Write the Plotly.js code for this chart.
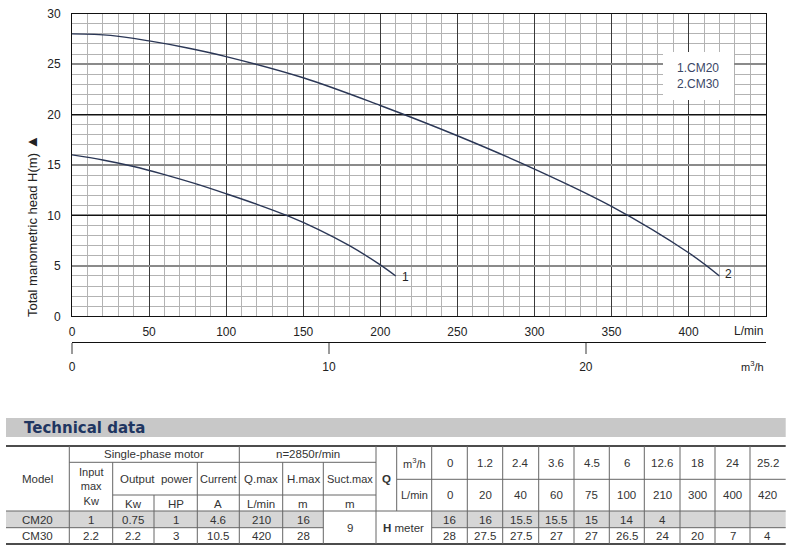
<!DOCTYPE html>
<html>
<head>
<meta charset="utf-8">
<script src="https://cdn.plot.ly/plotly-3.0.1.min.js"></script>
<style>html,body{margin:0;padding:0;background:#fff;}#chart{width:792px;height:554px;}</style>
</head>
<body>
<div id="chart"></div>
<script>
// ---------- Chart data ----------
const curve1Name = '1.CM20';
const curve1Flow = [0, 20, 40, 60, 80, 100, 120, 140, 160, 180, 200, 210];
const curve1Head = [16, 15.5, 14.85, 14.05, 13.15, 12.15, 11.1, 9.95, 8.6, 7.0, 5.1, 4.0];

const curve2Name = '2.CM30';
const curve2Flow = [0, 25, 50, 75, 100, 150, 200, 250, 300, 350, 400, 420];
const curve2Head = [28, 27.85, 27.3, 26.6, 25.75, 23.65, 20.9, 17.9, 14.6, 10.9, 6.3, 4.0];

const flowTicks = [0, 50, 100, 150, 200, 250, 300, 350, 400];
const headTicks = [0, 5, 10, 15, 20, 25, 30];
const m3hTicks = [0, 10, 20];

// ---------- Table data ----------
const tableTitle = 'Technical data';
const models = ['CM20', 'CM30'];
const inputKw = ['1', '2.2'];
const outputKw = ['0.75', '2.2'];
const outputHP = ['1', '3'];
const currentA = ['4.6', '10.5'];
const qMax = ['210', '420'];
const hMax = ['16', '28'];
const suctMax = '9';
const qM3h = ['0', '1.2', '2.4', '3.6', '4.5', '6', '12.6', '18', '24', '25.2'];
const qLmin = ['0', '20', '40', '60', '75', '100', '210', '300', '400', '420'];
const hCM20 = ['16', '16', '15.5', '15.5', '15', '14', '4', '', '', ''];
const hCM30 = ['28', '27.5', '27.5', '27', '27', '26.5', '24', '20', '7', '4'];

// ---------- helpers ----------
const W = 792, H = 554;
const px = x => x / W;
const py = y => 1 - y / H;
const FONT = 'Liberation Sans, Arial, sans-serif';
const curveColor = '#2b3756';
const TS = 11.5;

const shapes = [];
const annotations = [];

function hline(y, x0, x1, w, c) {
  shapes.push({type: 'line', xref: 'paper', yref: 'paper', x0: px(x0), x1: px(x1), y0: py(y), y1: py(y),
    line: {color: c || '#666', width: w || 1}, layer: 'above'});
}
function vline(x, y0, y1, w, c) {
  shapes.push({type: 'line', xref: 'paper', yref: 'paper', x0: px(x), x1: px(x), y0: py(y0), y1: py(y1),
    line: {color: c || '#666', width: w || 1}, layer: 'above'});
}
function rect(x0, y0, x1, y1, fill) {
  shapes.push({type: 'rect', xref: 'paper', yref: 'paper', x0: px(x0), x1: px(x1), y0: py(y0), y1: py(y1),
    line: {width: 0}, fillcolor: fill, layer: 'above'});
}
function txt(x, y, text, opt) {
  opt = opt || {};
  annotations.push({xref: 'paper', yref: 'paper', x: px(x), y: py(y), text: text, showarrow: false,
    xanchor: opt.xanchor || 'center', yanchor: 'middle', textangle: opt.angle || 0,
    font: {family: opt.family || FONT, size: opt.size || TS, color: opt.color || '#333'}});
}

// ---------- plot geometry ----------
const plotL = 72, plotR = 765.7, plotT = 13.7, plotB = 316.3;
const m3hAxisY = 342.3;

// ---------- chart annotations ----------
annotations.push({xref: 'x', yref: 'y', x: curve1Flow[curve1Flow.length - 1], y: curve1Head[curve1Head.length - 1],
  text: '1', showarrow: false, xshift: 10, yshift: -1, font: {family: FONT, size: 12, color: '#222'}});
annotations.push({xref: 'x', yref: 'y', x: curve2Flow[curve2Flow.length - 1], y: curve2Head[curve2Head.length - 1],
  text: '2', showarrow: false, xshift: 9, yshift: 2, font: {family: FONT, size: 12, color: '#222'}});

// legend box
rect(663, 52, 734, 100, '#ffffff');
txt(698, 68, curve1Name, {size: 12, color: '#3a4666'});
txt(698, 83.5, curve2Name, {size: 12, color: '#3a4666'});

txt(748, 331, 'L/min', {size: 12, color: '#222'});
txt(752, 366, 'm<sup>3</sup>/h', {size: 11, color: '#222'});
txt(31, 226, 'Total manometric head H(m) <span style="font-size:15px">▲</span>', {size: 13, color: '#222', angle: -90});

// ---------- table ----------
rect(6, 418, 785.7, 437, '#c8c8c8');
txt(22, 428, '<b>' + tableTitle + '</b>', {xanchor: 'left', size: 15, family: 'DejaVu Sans, sans-serif', color: '#1f3661'});

const qCols = [431.7, 467.3, 502.7, 538.7, 574, 609.3, 644.3, 680, 715, 750, 785.7];
const rowTop = 446, rowA = 462.3, rowQ = 479.3, rowB = 495, rowD = 511, rowE = 527.7, rowBot = 544;

// shading of CM20 rows
rect(6, rowD, 323.3, rowE, '#d6d6d6');
rect(431.7, rowD, 785.7, rowE, '#d6d6d6');

hline(rowTop, 6, 785.7, 1.6, '#111');
hline(rowA, 69.3, 376);
hline(rowQ, 396.7, 785.7);
hline(rowB, 112.7, 376);
hline(rowD, 6, 785.7);
hline(rowE, 6, 323.3);
hline(rowE, 431.7, 785.7);
hline(rowBot, 6, 785.7, 1.6, '#111');

vline(69.3, rowTop, rowBot);
vline(112.7, rowA, rowBot);
vline(154, rowB, rowBot);
vline(197.3, rowA, rowBot);
vline(239.3, rowTop, rowBot);
vline(282.7, rowA, rowBot);
vline(323.3, rowA, rowBot);
vline(376, rowTop, rowBot);
vline(396.7, rowTop, rowD);
qCols.slice(0, qCols.length - 1).forEach(x => vline(x, rowTop, rowBot));

// header texts
txt(154.3, 454, 'Single-phase motor');
txt(307.7, 454, 'n=2850r/min');
txt(37.6, 478.5, 'Model');
txt(91, 487, 'Input<br>max<br>Kw', {size: 11});
txt(155.5, 479, 'Output  power');
txt(218.3, 479, 'Current', {size: 11});
txt(261, 479, 'Q.max');
txt(303, 479, 'H.max');
txt(349.7, 479, 'Suct.max', {size: 11});
txt(386.3, 479, '<b>Q</b>');
txt(133.3, 503.5, 'Kw');
txt(175.7, 503.5, 'HP');
txt(218.3, 503.5, 'A');
txt(261, 503.5, 'L/min');
txt(303, 503.5, 'm');
txt(349.7, 503.5, 'm');
txt(414.2, 463, 'm<sup>3</sup>/h', {size: 11});
txt(414.2, 495, 'L/min', {size: 11});
txt(403.8, 527.5, '<b>H</b> meter');
txt(349.7, 527.5, suctMax);

const dataRowsY = [519.5, 536];
models.forEach((m, i) => {
  const y = dataRowsY[i];
  txt(37.6, y, m);
  txt(91, y, inputKw[i]);
  txt(133.3, y, outputKw[i]);
  txt(175.7, y, outputHP[i]);
  txt(218.3, y, currentA[i]);
  txt(261, y, qMax[i]);
  txt(303, y, hMax[i]);
});
qM3h.forEach((v, j) => {
  const cx = (qCols[j] + qCols[j + 1]) / 2;
  txt(cx, 463, v);
  txt(cx, 495, qLmin[j]);
  if (hCM20[j] !== '') txt(cx, 519.5, hCM20[j]);
  txt(cx, 536, hCM30[j]);
});

// ---------- traces ----------
const traces = [
  {x: curve1Flow, y: curve1Head, name: curve1Name, mode: 'lines', line: {color: curveColor, width: 1.4, shape: 'spline', smoothing: 1}, xaxis: 'x', yaxis: 'y', hoverinfo: 'skip'},
  {x: curve2Flow, y: curve2Head, name: curve2Name, mode: 'lines', line: {color: curveColor, width: 1.4, shape: 'spline', smoothing: 1}, xaxis: 'x', yaxis: 'y', hoverinfo: 'skip'},
  {x: [0], y: [0], xaxis: 'x', yaxis: 'y2', mode: 'markers', marker: {opacity: 0, size: 1}, hoverinfo: 'skip', showlegend: false},
  {x: [0], y: [0], xaxis: 'x3', yaxis: 'y', mode: 'markers', marker: {opacity: 0, size: 1}, hoverinfo: 'skip', showlegend: false}
];

const xDom = [px(plotL), px(plotR)];
const yDom = [py(plotB), py(plotT)];
const flowMax = 450;
const layout = {
  width: W, height: H,
  margin: {l: 0, r: 0, t: 0, b: 0, pad: 0},
  paper_bgcolor: '#ffffff', plot_bgcolor: '#ffffff',
  showlegend: false,
  xaxis: {
    domain: xDom, range: [0, flowMax], anchor: 'y',
    tickvals: flowTicks, ticktext: flowTicks.map(String),
    showgrid: true, gridcolor: '#3a3a3a', gridwidth: 1,
    minor: {dtick: 10, tick0: 0, showgrid: true, gridcolor: '#b3b3b3', gridwidth: 1, ticks: ''},
    showline: true, linecolor: '#111', linewidth: 1, mirror: true,
    ticks: '', zeroline: false, ticklabelstandoff: 4,
    tickfont: {family: FONT, size: 12, color: '#222'}, fixedrange: true
  },
  yaxis: {
    domain: yDom, range: [0, 30], anchor: 'x',
    tickvals: headTicks, ticktext: headTicks.map(String),
    showgrid: true, gridcolor: '#8a8a8a', gridwidth: 2,
    minor: {dtick: 1, tick0: 0, showgrid: true, gridcolor: '#b3b3b3', gridwidth: 1, ticks: ''},
    showline: true, linecolor: '#111', linewidth: 1, mirror: true,
    ticks: '', zeroline: false, ticklabelstandoff: 8,
    tickfont: {family: FONT, size: 12, color: '#222'}, fixedrange: true
  },
  yaxis2: {
    domain: yDom, range: [0, 30], overlaying: 'y', anchor: 'x',
    dtick: 10, tick0: 0, showgrid: true, gridcolor: '#111', gridwidth: 1.2,
    showticklabels: false, ticks: '', zeroline: false, showline: false, fixedrange: true
  },
  xaxis3: {
    domain: xDom, range: [0, flowMax * 0.06], overlaying: 'x', anchor: 'free', position: py(m3hAxisY), side: 'bottom',
    tickvals: m3hTicks, ticktext: m3hTicks.map(String),
    showgrid: false, zeroline: false, showline: true, linecolor: '#111', linewidth: 1,
    ticks: 'outside', ticklen: 11, tickwidth: 2, tickcolor: '#9a9a9a', ticklabelstandoff: 2,
    tickfont: {family: FONT, size: 12, color: '#222'}, fixedrange: true
  },
  shapes: shapes,
  annotations: annotations
};

Plotly.newPlot('chart', traces, layout, {staticPlot: true, displayModeBar: false});
</script>
</body>
</html>
